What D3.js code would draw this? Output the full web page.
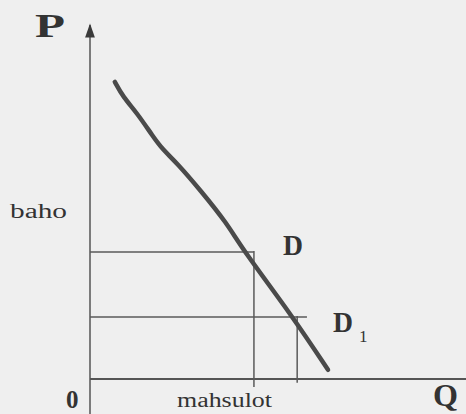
<!DOCTYPE html>
<meta charset="utf-8">
<style>
  body { margin: 0; background: #efefef; }
  svg { display: block; background-color: #efefef; }
  text { font-family: "Liberation Serif", "DejaVu Serif", serif; fill: #333; }
  .lbl-big { font-weight: bold; }
</style>
<div id="chart"></div>
<script src="https://cdn.jsdelivr.net/npm/d3@7/dist/d3.min.js"></script>
<script>
  // demand curve (Q and P in plot units 0..100)
  var demandQ = [6.6, 8.8, 12.5, 16.8, 19.4, 23.1, 29.3, 36.4, 40.7, 54.0, 63.3];
  var demandP = [84.4, 80.1, 75.6, 68.8, 65.1, 61.4, 53.7, 44.3, 36.6, 17.6, 2.6];

  // the two price / quantity guides (D and D1)
  var guideNames = ["D", "D1"];
  var guidePrice = [36.1, 17.6];
  var guideQty = [43.6, 55.1];
  var guideEnd = [43.6, 57.7];     // where each horizontal guide stops
  var guideDrop = [-2.3, -1.1];    // how far each vertical guide runs below the axis

  var width = 466, height = 414;
  var x0 = 90, y0 = 379;

  var x = d3.scaleLinear().domain([0, 100]).range([x0, 466]);
  var y = d3.scaleLinear().domain([0, 100]).range([y0, 27]);

  var svg = d3.select("#chart").append("svg")
      .attr("width", width)
      .attr("height", height);

  var defs = svg.append("defs");
  defs.append("marker")
      .attr("id", "arrow")
      .attr("viewBox", "0 0 10 10")
      .attr("refX", 9).attr("refY", 5)
      .attr("markerWidth", 16).attr("markerHeight", 14)
      .attr("markerUnits", "userSpaceOnUse")
      .attr("orient", "auto")
    .append("path")
      .attr("d", "M0,1.5 L10,5 L0,8.5 Z")
      .attr("fill", "#3a3a3a");

  // axes
  svg.append("line")
      .attr("x1", x(0)).attr("x2", x(0))
      .attr("y1", y(-10)).attr("y2", y(100) - 2)
      .attr("stroke", "#555").attr("stroke-width", 1.5)
      .attr("marker-end", "url(#arrow)");

  svg.append("line")
      .attr("x1", x(0)).attr("x2", x(100))
      .attr("y1", y(0)).attr("y2", y(0))
      .attr("stroke", "#555").attr("stroke-width", 2);

  // guides
  var guides = guideNames.map(function(n, i) {
    return {name: n, p: guidePrice[i], q: guideQty[i], end: guideEnd[i], drop: guideDrop[i]};
  });

  svg.selectAll(".hguide").data(guides).enter().append("line")
      .attr("class", "hguide")
      .attr("x1", x(0)).attr("x2", function(d) { return x(d.end); })
      .attr("y1", function(d) { return y(d.p); })
      .attr("y2", function(d) { return y(d.p); })
      .attr("stroke", "#5a5a5a").attr("stroke-width", 1.5);

  svg.selectAll(".vguide").data(guides).enter().append("line")
      .attr("class", "vguide")
      .attr("x1", function(d) { return x(d.q); })
      .attr("x2", function(d) { return x(d.q); })
      .attr("y1", function(d) { return y(d.p) - 1; })
      .attr("y2", function(d) { return y(d.drop); })
      .attr("stroke", "#5a5a5a").attr("stroke-width", 1.5);

  // demand curve
  var pts = demandQ.map(function(q, i) { return [q, demandP[i]]; });
  var line = d3.line()
      .x(function(d) { return x(d[0]); })
      .y(function(d) { return y(d[1]); })
      .curve(d3.curveBasis);

  svg.append("path")
      .datum(pts)
      .attr("d", line)
      .attr("fill", "none")
      .attr("stroke", "#4a4a4a")
      .attr("stroke-width", 4.5)
      .attr("stroke-linecap", "round");

  // labels
  svg.append("text").attr("class", "lbl-big")
      .attr("x", 35).attr("y", 37)
      .attr("font-size", 34).attr("textLength", 30).attr("lengthAdjust", "spacingAndGlyphs")
      .text("P");

  svg.append("text")
      .attr("x", 10).attr("y", 218)
      .attr("font-size", 20).attr("textLength", 57).attr("lengthAdjust", "spacingAndGlyphs")
      .text("baho");

  svg.append("text").attr("class", "lbl-big")
      .attr("x", 283).attr("y", 255)
      .attr("font-size", 29).attr("textLength", 20).attr("lengthAdjust", "spacingAndGlyphs")
      .text("D");

  var d1 = svg.append("text").attr("class", "lbl-big")
      .attr("x", 333).attr("y", 332)
      .attr("font-size", 29);
  d1.append("tspan").attr("textLength", 20).attr("lengthAdjust", "spacingAndGlyphs").text("D");
  d1.append("tspan")
      .attr("x", 359).attr("y", 342)
      .attr("font-size", 17).attr("font-weight", "normal")
      .text("1");

  svg.append("text").attr("class", "lbl-big")
      .attr("x", 66).attr("y", 408)
      .attr("font-size", 25)
      .text("0");

  svg.append("text")
      .attr("x", 177).attr("y", 407)
      .attr("font-size", 20).attr("textLength", 95).attr("lengthAdjust", "spacingAndGlyphs")
      .text("mahsulot");

  svg.append("text").attr("class", "lbl-big")
      .attr("x", 433).attr("y", 406)
      .attr("font-size", 32).attr("textLength", 25).attr("lengthAdjust", "spacingAndGlyphs")
      .text("Q");
</script>
